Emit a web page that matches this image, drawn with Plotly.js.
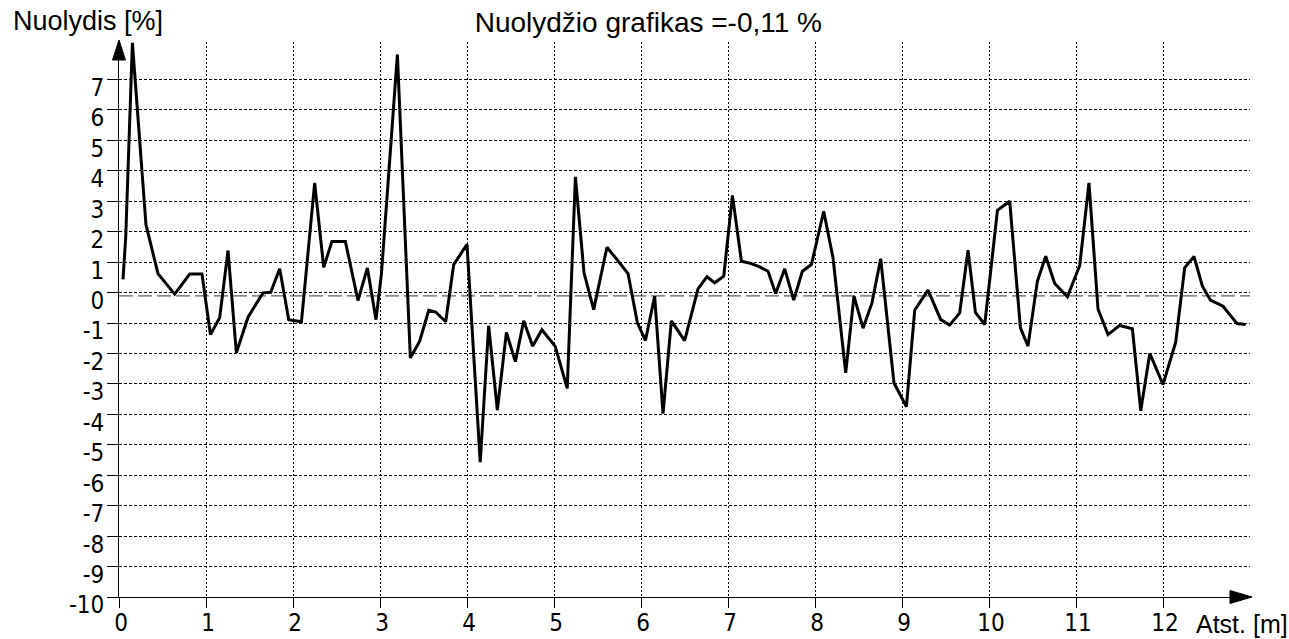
<!DOCTYPE html>
<html>
<head>
<meta charset="utf-8">
<script src="https://cdn.plot.ly/plotly-3.0.1.min.js"></script>
<style>
  html, body { margin: 0; padding: 0; background: #ffffff; }
  #chart { width: 1289px; height: 639px; }
</style>
</head>
<body>
<div id="chart"></div>
<script>
// ---- Data ----
const distance = [
  0.046, 0.077, 0.154, 0.31, 0.448, 0.64, 0.813, 0.954,
  1.051, 1.157, 1.253, 1.349, 1.483, 1.655, 1.744, 1.847, 1.951,
  2.097, 2.249, 2.353, 2.448, 2.602, 2.747, 2.855, 2.954,
  3.016, 3.2, 3.349, 3.456, 3.56, 3.64, 3.755, 3.847, 4.0,
  4.152, 4.249, 4.349, 4.453, 4.556, 4.652, 4.755, 4.861, 5.014,
  5.152, 5.246, 5.345, 5.456, 5.609, 5.755, 5.851, 5.959,
  6.051, 6.157, 6.253, 6.349, 6.502, 6.655, 6.759, 6.847, 6.951,
  7.051, 7.154, 7.269, 7.364, 7.46, 7.548, 7.652, 7.755, 7.855, 7.959,
  8.1, 8.207, 8.353, 8.448, 8.552, 8.655, 8.755, 8.908,
  9.051, 9.146, 9.299, 9.445, 9.548, 9.663, 9.759, 9.844, 9.951,
  10.097, 10.238, 10.361, 10.448, 10.556, 10.652, 10.755, 10.901,
  11.043, 11.149, 11.253, 11.368, 11.502, 11.648, 11.744, 11.848,
  12.0, 12.146, 12.249, 12.356, 12.453, 12.545, 12.69, 12.851, 12.951
];
const slopePct = [
  0.43, 1.8, 8.2, 2.23, 0.62, -0.05, 0.61, 0.61,
  -1.38, -0.83, 1.38, -1.98, -0.81, -0.01, 0.01, 0.78, -0.89,
  -0.96, 3.6, 0.83, 1.68, 1.68, -0.26, 0.81, -0.89,
  0.6, 7.82, -2.15, -1.6, -0.58, -0.64, -0.96, 0.92, 1.58,
  -5.57, -1.09, -3.86, -1.31, -2.27, -0.93, -1.76, -1.22, -1.77,
  -3.15, 3.8, 0.65, -0.56, 1.49, 0.97, 0.62, -1.0,
  -1.57, -0.12, -3.98, -0.93, -1.58, 0.12, 0.52, 0.32, 0.54,
  3.19, 1.03, 0.95, 0.84, 0.70, -0.03, 0.78, -0.25, 0.70, 0.92,
  2.67, 1.14, -2.64, -0.12, -1.17, -0.34, 1.11, -2.97,
  -3.75, -0.58, 0.08, -0.89, -1.07, -0.67, 1.39, -0.65, -1.05,
  2.70, 3.0, -1.16, -1.76, 0.37, 1.19, 0.30, -0.14,
  0.89, 3.6, -0.54, -1.38, -1.08, -1.19, -3.88, -2.0,
  -3.02, -1.63, 0.81, 1.19, 0.21, -0.25, -0.45, -1.02, -1.05
];
const meanSlope = -0.11;
const xTickVals = [0, 1, 2, 3, 4, 5, 6, 7, 8, 9, 10, 11, 12];
const yTickVals = [-10, -9, -8, -7, -6, -5, -4, -3, -2, -1, 0, 1, 2, 3, 4, 5, 6, 7];
const chartTitle = 'Nuolydžio grafikas =-0,11 %';
const yAxisLabel = 'Nuolydis [%]';
const xAxisLabel = 'Atst. [m]';

// ---- Styles ----
const tickFont = { family: '"Liberation Sans Narrow", "DejaVu Sans Condensed", "Liberation Sans", sans-serif', size: 24, color: '#000000' };
const textFont = { family: '"Liberation Sans", Arial, sans-serif', size: 27, color: '#000000' };

const trace = {
  type: 'scatter',
  mode: 'lines',
  x: distance,
  y: slopePct,
  line: { color: '#000000', width: 3 },
  hoverinfo: 'skip',
  showlegend: false
};

const layout = {
  width: 1289,
  height: 639,
  paper_bgcolor: '#ffffff',
  plot_bgcolor: '#ffffff',
  margin: { l: 119, r: 39, t: 42, b: 42, pad: 0 },
  showlegend: false,
  title: {
    text: chartTitle,
    font: { family: textFont.family, size: 28, color: '#000000' },
    xref: 'container', x: 0.503, xanchor: 'center',
    yref: 'container', y: 1 - 22 / 639, yanchor: 'middle'
  },
  xaxis: {
    range: [0, 13.0],
    tickmode: 'array',
    tickvals: xTickVals,
    ticktext: xTickVals.map(String),
    ticks: 'outside', ticklen: 10, tickwidth: 1, tickcolor: '#000000',
    tickfont: tickFont,
    ticklabelstandoff: -6,
    ticklabelshift: 2,
    showline: true, linecolor: '#000000', linewidth: 1,
    showgrid: true, gridcolor: '#000000', gridwidth: 1, griddash: '2px,2px',
    zeroline: false,
    fixedrange: true
  },
  yaxis: {
    range: [-10, 8.23],
    tickmode: 'array',
    tickvals: yTickVals,
    ticktext: yTickVals.map(String),
    ticks: 'outside', ticklen: 11, tickwidth: 1, tickcolor: '#000000',
    tickfont: tickFont,
    ticklabelshift: 8,
    ticklabelstandoff: -2,
    showline: true, linecolor: '#000000', linewidth: 1,
    showgrid: true, gridcolor: '#000000', gridwidth: 1, griddash: '3px,2px',
    zeroline: false,
    fixedrange: true
  },
  shapes: [
    // mean slope reference line
    {
      type: 'line', xref: 'paper', yref: 'y',
      x0: 0, x1: 1, y0: meanSlope, y1: meanSlope,
      line: { color: '#333333', width: 1, dash: '14px,5px' },
      layer: 'below'
    },
    // y-axis arrow head (top of the vertical axis)
    {
      type: 'path', xref: 'paper', yref: 'paper',
      xsizemode: 'pixel', ysizemode: 'pixel', xanchor: 0, yanchor: 1,
      path: 'M -6.5,-18 L 6.5,-18 L 0,2 Z',
      fillcolor: '#000000', line: { color: '#000000', width: 1 }
    },
    // x-axis arrow head (right end of the horizontal axis)
    {
      type: 'path', xref: 'paper', yref: 'paper',
      xsizemode: 'pixel', ysizemode: 'pixel', xanchor: 1, yanchor: 0,
      path: 'M -20,6.5 L -20,-6.5 L 2,0 Z',
      fillcolor: '#000000', line: { color: '#000000', width: 1 }
    }
  ],
  annotations: [
    {
      text: yAxisLabel, font: textFont, showarrow: false,
      xref: 'paper', yref: 'paper', x: 0, y: 1,
      xanchor: 'left', yanchor: 'middle', xshift: -108, yshift: 21
    },
    {
      text: xAxisLabel, font: { family: textFont.family, size: 25, color: '#000000' }, showarrow: false,
      xref: 'paper', yref: 'paper', x: 1, y: 0,
      xanchor: 'left', yanchor: 'middle', xshift: -56, yshift: -27
    }
  ]
};

Plotly.newPlot('chart', [trace], layout, { displayModeBar: false, staticPlot: true });
</script>
</body>
</html>
